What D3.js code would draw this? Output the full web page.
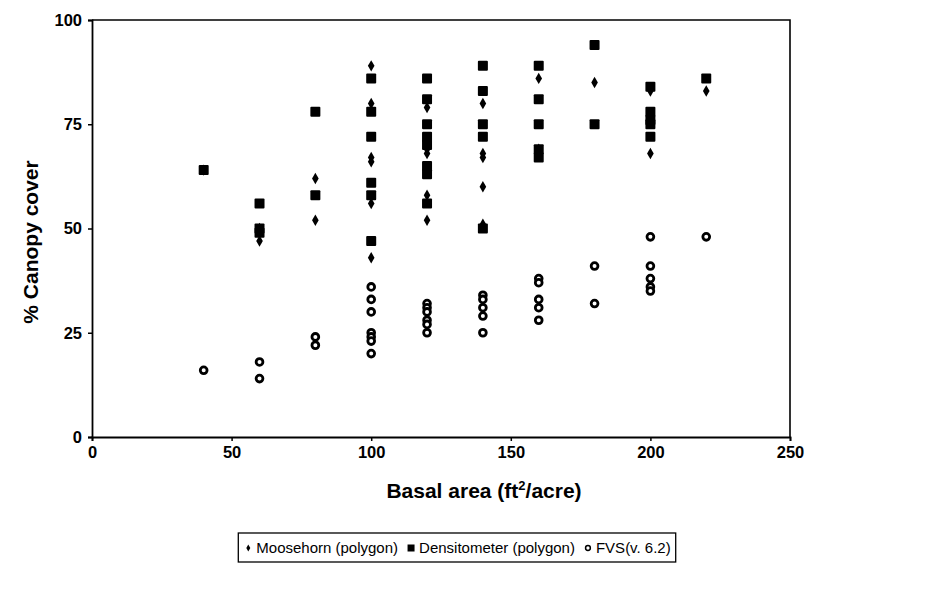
<!DOCTYPE html>
<html>
<head>
<meta charset="utf-8">
<script src="https://cdn.jsdelivr.net/npm/d3@7/dist/d3.min.js"></script>
<style>
  html, body { margin: 0; padding: 0; background: #fff; }
  svg { display: block; }
  text { font-family: "Liberation Sans", Arial, sans-serif; fill: #000; }
</style>
</head>
<body>
<svg id="chart" width="929" height="607"></svg>
<script>
// Basal area classes (ft²/acre) at which the stands were sampled
const basalArea = [40, 60, 80, 100, 120, 140, 160, 180, 200, 220];

// % canopy cover readings per basal-area class
const moosehorn = [
  [64], [50, 47], [62, 52], [89, 80, 67, 66, 56, 43],
  [79, 69, 68, 64, 58, 52], [80, 68, 67, 60, 51], [86, 69, 68],
  [85], [83, 68], [83]
];
const densitometer = [
  [64], [56, 50, 49], [78, 58], [86, 78, 72, 61, 58, 47],
  [86, 81, 75, 72, 70, 65, 63, 56], [89, 83, 75, 72, 50],
  [89, 81, 75, 69, 67], [94, 75], [84, 78, 76, 75, 72], [86]
];
const fvs = [
  [16], [18, 14], [24, 22], [36, 33, 30, 25, 24, 23, 20],
  [32, 31, 30, 28, 27, 25], [34, 33, 31, 29, 25],
  [38, 37, 33, 31, 28], [41, 32], [48, 41, 38, 36, 35], [48]
];

const xTicks = [0, 50, 100, 150, 200, 250];
const yTicks = [0, 25, 50, 75, 100];
const seriesNames = ["Moosehorn (polygon)", "Densitometer (polygon)", "FVS(v. 6.2)"];

const svg = d3.select("#chart");
const plot = { left: 92, right: 790, top: 20, bottom: 437 };

const x = d3.scaleLinear().domain([0, 250]).range([plot.left, plot.right]);
const y = d3.scaleLinear().domain([0, 100]).range([plot.bottom, plot.top]);

// flatten one series into {x, v} points
const flat = arr => arr.flatMap((vals, i) => vals.map(v => ({ x: basalArea[i], v })));

// frame (top and right edges)
svg.append("path")
  .attr("d", `M${plot.left},${plot.top}H${plot.right}V${plot.bottom}`)
  .attr("fill", "none").attr("stroke", "#000").attr("stroke-width", 1.6);

// axes
const xAxis = svg.append("g")
  .attr("transform", `translate(0,${plot.bottom})`)
  .call(d3.axisBottom(x).tickValues(xTicks).tickSize(4).tickPadding(5).tickFormat(d3.format("d")));
const yAxis = svg.append("g")
  .attr("transform", `translate(${plot.left},0)`)
  .call(d3.axisLeft(y).tickValues(yTicks).tickSize(4).tickPadding(6).tickFormat(d3.format("d")));

[xAxis, yAxis].forEach(g => {
  g.select(".domain").attr("stroke", "#000").attr("stroke-width", 1.8);
  g.selectAll(".tick line").attr("stroke", "#000").attr("stroke-width", 1.5);
  g.selectAll(".tick text")
    .attr("font-family", '"Liberation Sans", Arial, sans-serif')
    .attr("font-size", 16.5).attr("font-weight", "bold").attr("fill", "#000");
});

// axis titles
const xTitle = svg.append("text")
  .attr("x", 484).attr("y", 498)
  .attr("text-anchor", "middle").attr("font-size", 21).attr("font-weight", "bold");
xTitle.append("tspan").text("Basal area (ft");
xTitle.append("tspan").attr("font-size", 13).attr("dy", -8).text("2");
xTitle.append("tspan").attr("dy", 8).text("/acre)");

svg.append("text")
  .attr("transform", `translate(38,242) rotate(-90)`)
  .attr("text-anchor", "middle").attr("font-size", 21).attr("font-weight", "bold")
  .text("% Canopy cover");

// marker shapes
const diamond = d3.symbol().type(d3.symbolDiamond).size(38);

svg.append("g").selectAll("path").data(flat(moosehorn)).join("path")
  .attr("d", diamond)
  .attr("transform", d => `translate(${x(d.x)},${y(d.v)})`)
  .attr("fill", "#000");

svg.append("g").selectAll("rect").data(flat(densitometer)).join("rect")
  .attr("x", d => x(d.x) - 5).attr("y", d => y(d.v) - 5)
  .attr("width", 10).attr("height", 10).attr("rx", 1)
  .attr("fill", "#000");

svg.append("g").selectAll("circle").data(flat(fvs)).join("circle")
  .attr("cx", d => x(d.x)).attr("cy", d => y(d.v)).attr("r", 3.4)
  .attr("fill", "#fff").attr("stroke", "#000").attr("stroke-width", 2.8);

// legend
const legend = svg.append("g");
const lgText = legend.append("g");
let cursor = 0;
seriesNames.forEach((name, i) => {
  const item = lgText.append("g").attr("transform", `translate(${cursor},0)`);
  if (i === 0) item.append("path").attr("d", d3.symbol().type(d3.symbolDiamond).size(14)).attr("transform", "translate(5,-5)");
  if (i === 1) item.append("rect").attr("x", 1.5).attr("y", -8.5).attr("width", 7).attr("height", 7);
  if (i === 2) item.append("circle").attr("cx", 5).attr("cy", -5).attr("r", 2.4)
    .attr("fill", "#fff").attr("stroke", "#000").attr("stroke-width", 1.5);
  const t = item.append("text").attr("x", 13).attr("font-size", 15).text(name);
  cursor += 13 + t.node().getComputedTextLength() + 8;
});
const lgWidth = cursor - 8 + 10;
const lgCenter = 457;
const lgLeft = lgCenter - lgWidth / 2;
lgText.attr("transform", `translate(${lgLeft + 5},553)`);
legend.insert("rect", ":first-child")
  .attr("x", lgLeft).attr("y", 533).attr("width", lgWidth).attr("height", 29)
  .attr("fill", "#fff").attr("stroke", "#000").attr("stroke-width", 1.3);
</script>
</body>
</html>
